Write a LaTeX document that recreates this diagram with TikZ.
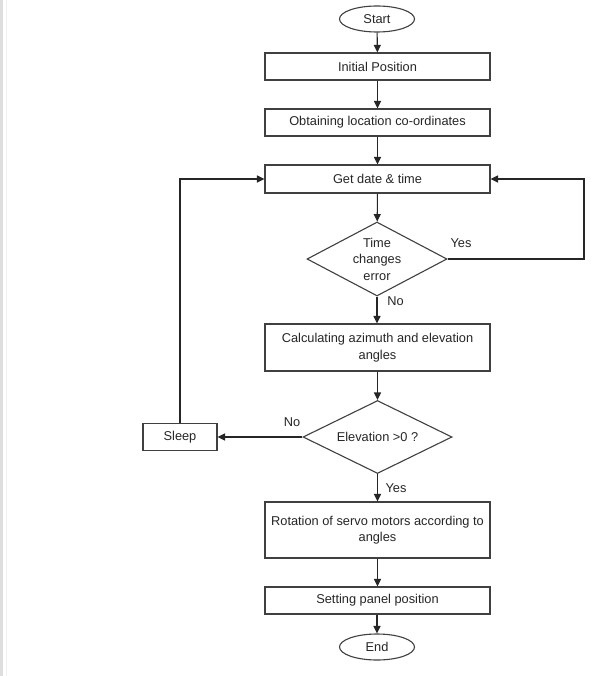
\documentclass[tikz,border=0pt]{standalone}
\usepackage{fontspec}
\setmainfont{Liberation Sans}
\usetikzlibrary{shapes.geometric,arrows.meta}
\begin{document}
\begin{tikzpicture}[x=1pt,y=-1pt,
  every node/.style={font=\fontsize{12.8}{16.5}\selectfont, text=black!85},
  proc/.style={draw=black!75, line width=1.1pt, rectangle, minimum width=225pt, minimum height=27pt, inner sep=2pt, align=center},
  term/.style={draw=black!75, line width=1.1pt, ellipse, minimum width=75pt, minimum height=26pt, inner sep=0pt},
  dec/.style={draw=black!75, line width=1.1pt, diamond, inner sep=0pt, align=center},
  lbl/.style={inner sep=0pt},
  conn/.style={draw=black!85, line width=1.1pt, -{Triangle[length=7.5pt,width=7pt]}}
]
\useasboundingbox (0,0) rectangle (592,676);
\fill[white] (0,0) rectangle (592,676);
\draw[black!13, line width=2.5pt] (1.5,0) -- (1.5,676);
\draw[black!6, line width=1pt] (6,0) -- (6,676);

\node[term] (start) at (377,19) {Start};
\node[proc] (init) at (377.5,66.5) {Initial Position};
\node[proc] (obt) at (377.5,122.5) {Obtaining location co-ordinates};
\node[proc, minimum height=28pt] (get) at (377.5,179) {Get date \& time};
\node[dec, aspect=1.89, minimum width=140pt, minimum height=74pt] (d1) at (377,259) {Time\\changes\\error};
\node[proc, minimum height=47pt] (calc) at (377.5,347.5) {Calculating azimuth and elevation\\angles};
\node[dec, aspect=2.04, minimum width=149pt, minimum height=73pt] (d2) at (377.5,437) {Elevation {>}0 ?};
\node[proc, minimum width=74pt, minimum height=27pt] (sleep) at (180,437) {Sleep};
\node[proc, minimum height=56pt] (rot) at (377.5,530) {Rotation of servo motors according to\\angles};
\node[proc] (set) at (377.5,600.5) {Setting panel position};
\node[term] (end) at (377,647) {End};

\coordinate (r1) at (584,259);

\draw[conn] (start) -- (init);
\draw[conn] (init) -- (obt);
\draw[conn] (obt) -- (get);
\draw[conn] (get) -- (d1);
\draw[conn] (d1.south) -- (calc.north -| d1.south);
\draw[conn] (d1.east) -- (r1) |- (get.east);
\draw[conn] (calc.south -| d2.north) -- (d2.north);
\draw[conn] (d2.west) -- (sleep.east);
\draw[conn] (sleep.north) |- (get.west);
\draw[conn] (d2.south) -- (rot.north -| d2.south);
\draw[conn] (rot.south -| set.north) -- (set.north);
\draw[conn] (set.south -| end.north) -- (end.north);

\node[lbl] (yes1) at (461,243.5) {Yes};
\node[lbl] (no1) at (395.5,301) {No};
\node[lbl] (no2) at (292,422) {No};
\node[lbl] (yes2) at (396,488.5) {Yes};
\end{tikzpicture}
\end{document}
